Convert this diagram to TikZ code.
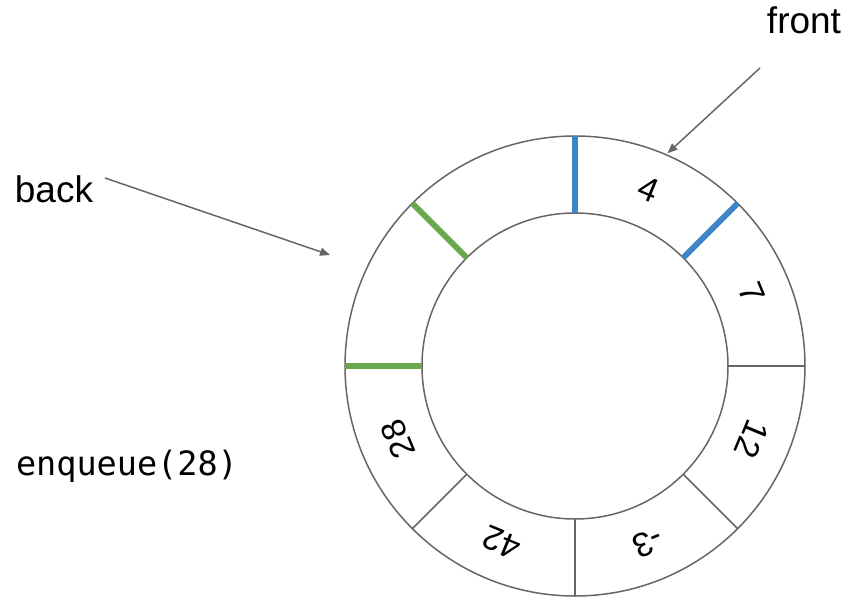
\documentclass[tikz,border=0pt]{standalone}
\usepackage{fontspec}
\setmainfont{Liberation Sans}
\newfontfamily\codefont{DejaVu Sans Mono}
\usetikzlibrary{arrows.meta}
\definecolor{FrontBlue}{HTML}{3D85C6}
\definecolor{BackGreen}{HTML}{6AA84F}
\definecolor{RingGray}{HTML}{666666}

\begin{document}
\begin{tikzpicture}[x=1pt, y=1pt,
	ring/.style={draw=RingGray, line width=1.5pt},
	ptr/.style={draw=RingGray, line width=1.5pt, -{Triangle[length=10pt, width=8pt]}},
	tag/.style={font=\fontsize{37}{44}\selectfont, inner sep=0pt},
	cell/.style={font=\fontsize{34}{40}\selectfont, inner sep=0pt}]
		\pgfmathsetmacro{\ro}{230}
		\pgfmathsetmacro{\ri}{153}
		\pgfmathsetmacro{\rm}{(\ro+\ri)/2}
		
		\useasboundingbox (-575,-234) rectangle (273,366);
		
		% ring
		\draw[ring] (0,0) circle (\ro);
		\draw[ring] (0,0) circle (\ri);
		\foreach \a in {0,-45,-90,-135}
			\draw[ring] (\a:\ri) -- (\a:\ro);
		\foreach \a in {90,45}
			\draw[FrontBlue, line width=6pt] (\a:\ri) -- (\a:\ro);
		\foreach \a in {180,135}
			\draw[BackGreen, line width=6pt] (\a:\ri) -- (\a:\ro);
		
		% values
		\foreach \a/\v [count=\i] in {67.5/4, 22.5/7, -22.5/12, -67.5/-3, -112.5/42, -157.5/28}
			\node[cell, rotate=\a-90] (cell\i) at (\a:\rm) {\v};
		
		% pointers
		\node[tag] (front) at (229,346) {front};
		\node[tag] (back) at (-521,177) {back};
		\node[font=\codefont\fontsize{33.5}{40}\selectfont, inner sep=0pt] (op) at (-448,-100) {enqueue(28)};
		
		\coordinate (fronttail) at (185,298);
		\coordinate (fronttip) at (66.5:\ro+2);
		\coordinate (backtail) at (-470,188);
		\coordinate (backtip) at (-245,111);
		
		\draw[ptr] (fronttail) -- (fronttip);
		\draw[ptr] (backtail) -- (backtip);
	\end{tikzpicture}
\end{document}
